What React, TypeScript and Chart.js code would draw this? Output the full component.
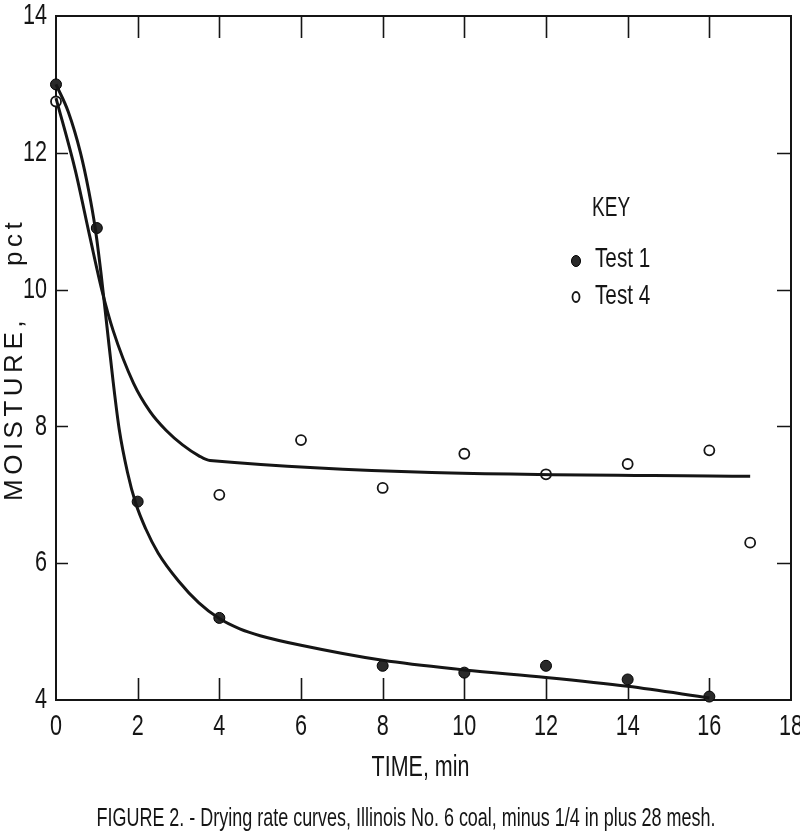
import React, { useEffect, useRef } from "react";
import { Chart, registerables } from "chart.js";
Chart.register(...registerables);

// ---- data ----
const xTicks = [0, 2, 4, 6, 8, 10, 12, 14, 16, 18];
const yTicks = [4, 6, 8, 10, 12, 14];

const test1X = [0, 1, 2, 4, 8, 10, 12, 14, 16];
const test1Y = [13.0, 10.9, 6.9, 5.2, 4.5, 4.4, 4.5, 4.3, 4.05];

const test4X = [0, 4, 6, 8, 10, 12, 14, 16, 17];
const test4Y = [12.75, 7.0, 7.8, 7.1, 7.6, 7.3, 7.45, 7.65, 6.3];

// fitted curves as drawn on the figure
const curve1X = [0, 0.3, 0.6, 0.8, 0.96, 1.1, 1.25, 1.4, 1.55, 1.75, 1.95, 2.2, 2.5, 3.0, 3.5, 4.0, 4.5, 5, 6, 8, 10, 12, 14, 16];
const curve1Y = [13.0, 12.6, 12.0, 11.45, 10.9, 10.25, 9.45, 8.65, 7.95, 7.33, 6.88, 6.5, 6.15, 5.74, 5.42, 5.19, 5.04, 4.94, 4.8, 4.58, 4.44, 4.33, 4.2, 4.03];

const curve4X = [0, 0.47, 0.83, 1.12, 1.4, 1.9, 2.3, 2.7, 3.1, 3.5, 3.77, 17];
const curve4Y = [12.8, 11.75, 10.77, 10.0, 9.4, 8.63, 8.22, 7.94, 7.73, 7.57, 7.5, 7.27];

const xTitle = "TIME, min";
const yTitleMain = "MOISTURE,";
const yTitleUnit = "pct";
const caption = "FIGURE 2. - Drying rate curves, Illinois No. 6 coal, minus 1/4 in plus 28 mesh.";
const legendTitle = "KEY";
const legendLabels = ["Test 1", "Test 4"];

const toPts = (xs: number[], ys: number[]) => xs.map((x, i) => ({ x, y: ys[i] }));

const INK = "#151515";
const FONT = "'Liberation Sans', Arial, sans-serif";

function drawCondensed(
  ctx: CanvasRenderingContext2D,
  text: string,
  x: number,
  y: number,
  size: number,
  sx: number,
  align: "left" | "center" | "right"
) {
  ctx.save();
  ctx.font = `${size}px ${FONT}`;
  ctx.textBaseline = "middle";
  ctx.textAlign = "left";
  const w = ctx.measureText(text).width * sx;
  const left = align === "center" ? x - w / 2 : align === "right" ? x - w : x;
  ctx.translate(left, y);
  ctx.scale(sx, 1);
  ctx.fillStyle = INK;
  ctx.fillText(text, 0, 0);
  ctx.restore();
}

function drawFitted(
  ctx: CanvasRenderingContext2D,
  text: string,
  cx: number,
  y: number,
  size: number,
  width: number
) {
  ctx.save();
  ctx.font = `${size}px ${FONT}`;
  const sx = width / ctx.measureText(text).width;
  ctx.restore();
  drawCondensed(ctx, text, cx, y, size, sx, "center");
}

const decorPlugin = {
  id: "decor",
  beforeDatasetsDraw(chart: any) {
    const { ctx, chartArea: a, scales } = chart;
    const xs = scales.x;
    const ys = scales.y;
    ctx.save();
    ctx.strokeStyle = INK;
    ctx.lineWidth = 2;
    ctx.strokeRect(a.left, a.top, a.right - a.left, a.bottom - a.top);
    ctx.lineWidth = 1.6;
    ctx.beginPath();
    xTicks.forEach((v) => {
      const px = Math.round(xs.getPixelForValue(v)) + 0.5;
      if (v > xs.min && v < xs.max) {
        ctx.moveTo(px, a.bottom);
        ctx.lineTo(px, a.bottom - 22);
        ctx.moveTo(px, a.top);
        ctx.lineTo(px, a.top + 22);
      }
    });
    yTicks.forEach((v) => {
      const py = Math.round(ys.getPixelForValue(v)) + 0.5;
      if (v > ys.min && v < ys.max) {
        ctx.moveTo(a.left, py);
        ctx.lineTo(a.left + 12, py);
        ctx.moveTo(a.right, py);
        ctx.lineTo(a.right - 14, py);
      }
    });
    ctx.stroke();
    ctx.restore();

    // tick labels
    xTicks.forEach((v) => {
      drawCondensed(ctx, String(v), xs.getPixelForValue(v), a.bottom + 27, 30, 0.72, "center");
    });
    yTicks.forEach((v) => {
      drawCondensed(ctx, String(v), a.left - 9, ys.getPixelForValue(v), 30, 0.72, "right");
    });

    // axis titles
    drawCondensed(ctx, xTitle, (a.left + a.right) / 2 - 3, a.bottom + 68, 29, 0.74, "center");
    drawFitted(ctx, caption, 406, a.bottom + 119, 25, 619);

    ctx.save();
    ctx.fillStyle = INK;
    ctx.font = `26px ${FONT}`;
    (ctx as any).letterSpacing = "4.5px";
    ctx.textBaseline = "alphabetic";
    ctx.textAlign = "left";
    ctx.translate(22, 0);
    ctx.rotate(-Math.PI / 2);
    ctx.fillText(yTitleMain, -501, 0);
    ctx.fillText(yTitleUnit, -266, 0);
    ctx.restore();

    // legend (KEY)
    drawCondensed(ctx, legendTitle, 592, 208, 28, 0.68, "left");
    drawCondensed(ctx, legendLabels[0], 595, 259, 28, 0.74, "left");
    drawCondensed(ctx, legendLabels[1], 595, 296, 28, 0.74, "left");
    ctx.save();
    ctx.fillStyle = "#2a2a2a";
    ctx.strokeStyle = "#000";
    ctx.lineWidth = 1;
    ctx.beginPath();
    ctx.ellipse(576, 261, 4.5, 5.5, 0, 0, Math.PI * 2);
    ctx.fill();
    ctx.stroke();
    ctx.fillStyle = "#fff";
    ctx.strokeStyle = INK;
    ctx.lineWidth = 1.8;
    ctx.beginPath();
    ctx.ellipse(576, 297, 3.5, 5, 0, 0, Math.PI * 2);
    ctx.fill();
    ctx.stroke();
    ctx.restore();
  },
};

export default function App() {
  const ref = useRef<HTMLCanvasElement | null>(null);
  useEffect(() => {
    document.body.style.margin = "0";
    const canvas = ref.current;
    if (!canvas) return;
    const chart = new Chart(canvas, {
      type: "scatter",
      data: {
        datasets: [
          {
            label: "Test 1 curve",
            data: toPts(curve1X, curve1Y),
            showLine: true,
            borderColor: INK,
            borderWidth: 3,
            pointRadius: 0,
            cubicInterpolationMode: "monotone",
            clip: false,
          } as any,
          {
            label: "Test 4 curve",
            data: toPts(curve4X, curve4Y),
            showLine: true,
            borderColor: INK,
            borderWidth: 3,
            pointRadius: 0,
            cubicInterpolationMode: "monotone",
            clip: false,
          } as any,
          {
            label: "Test 1",
            data: toPts(test1X, test1Y),
            showLine: false,
            pointStyle: "circle",
            pointRadius: 5.5,
            backgroundColor: "#2a2a2a",
            borderColor: "#000",
            borderWidth: 1,
            clip: false,
          } as any,
          {
            label: "Test 4",
            data: toPts(test4X, test4Y),
            showLine: false,
            pointStyle: "circle",
            pointRadius: 5,
            backgroundColor: "#fff",
            borderColor: INK,
            borderWidth: 1.8,
            clip: false,
          } as any,
        ],
      },
      options: {
        animation: false,
        responsive: false,
        events: [],
        layout: { padding: { left: 0, right: 9, top: 16, bottom: 0 } },
        plugins: { legend: { display: false }, tooltip: { enabled: false } },
        scales: {
          x: {
            type: "linear",
            min: 0,
            max: 18,
            ticks: { display: false, stepSize: 2 },
            grid: { display: false },
            border: { display: false },
            afterFit: (s: any) => {
              s.height = 134;
            },
          },
          y: {
            type: "linear",
            min: 4,
            max: 14,
            ticks: { display: false, stepSize: 2 },
            grid: { display: false },
            border: { display: false },
            afterFit: (s: any) => {
              s.width = 56;
            },
          },
        },
      } as any,
      plugins: [decorPlugin],
    });
    return () => chart.destroy();
  }, []);
  return (
    <div style={{ width: 800, height: 834, background: "#fff" }}>
      <canvas ref={ref} width={800} height={834} style={{ display: "block" }} />
    </div>
  );
}
